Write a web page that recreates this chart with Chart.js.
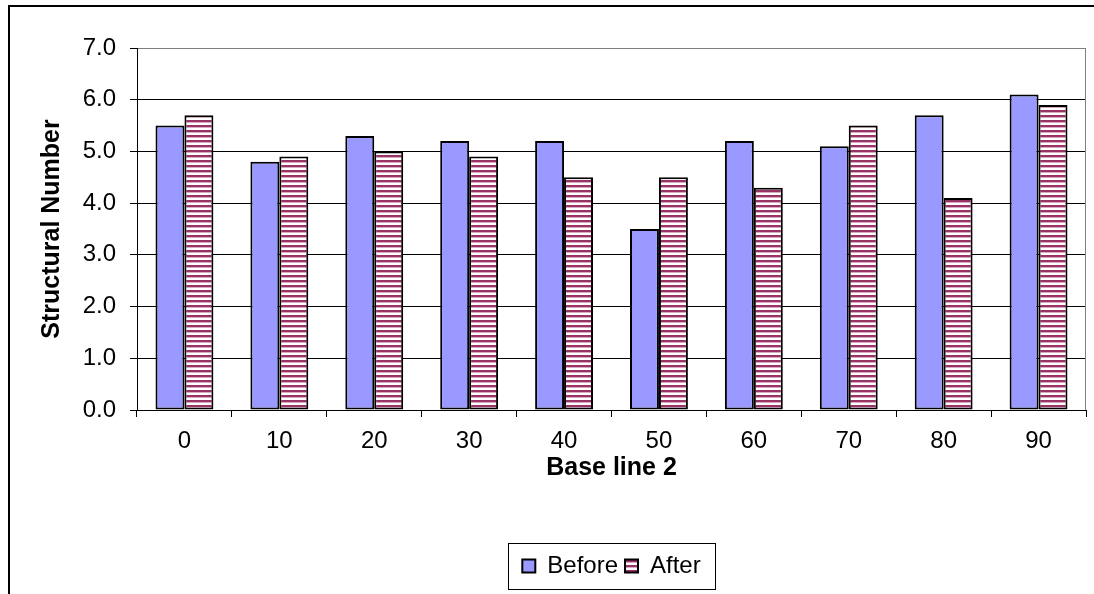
<!DOCTYPE html>
<html>
<head>
<meta charset="utf-8">
<script src="https://cdn.jsdelivr.net/npm/chart.js@4/dist/chart.umd.min.js"></script>
<style>
  html, body { margin: 0; padding: 0; background: #fff; }
</style>
</head>
<body>
<canvas id="myChart" width="1094" height="594"></canvas>
<script>
// values
const categories = ['0', '10', '20', '30', '40', '50', '60', '70', '80', '90'];
const before = [5.5, 4.8, 5.3, 5.2, 5.2, 3.5, 5.2, 5.1, 5.7, 6.1];
const after = [5.7, 4.9, 5.0, 4.9, 4.5, 4.5, 4.3, 5.5, 4.1, 5.9];
const seriesNames = ['Before', 'After'];

const FONT = "'Liberation Sans', Arial, sans-serif";

// horizontal maroon / white stripes like the Excel pattern fill
function stripes() {
  const c = document.createElement('canvas');
  c.width = 8;
  c.height = 5;
  const g = c.getContext('2d');
  g.fillStyle = '#ffffff';
  g.fillRect(0, 0, 8, 5);
  g.fillStyle = '#993366';
  g.fillRect(0, 0, 8, 2);
  g.fillStyle = '#d8a9c0';
  g.fillRect(0, 2, 8, 1);
  return g.createPattern(c, 'repeat');
}

const frame = {
  id: 'frame',
  beforeDraw(chart) {
    const c = chart.ctx;
    c.save();
    c.fillStyle = '#fff';
    c.fillRect(0, 0, chart.width, chart.height);
    c.strokeStyle = '#000';
    c.lineWidth = 2;
    c.strokeRect(9, 6, chart.width + 20, chart.height + 20);
    c.restore();
  },
  afterLayout(chart) {
    // centre the legend under the plot area
    chart.legend.left = chart.chartArea.left;
    chart.legend.right = chart.chartArea.right;
  },
  beforeDatasetsDraw(chart) {
    const a = chart.chartArea;
    const c = chart.ctx;
    c.save();
    c.strokeStyle = '#808080';
    c.lineWidth = 1;
    c.beginPath();
    c.moveTo(a.right - 0.5, a.top);
    c.lineTo(a.right - 0.5, a.bottom);
    c.stroke();
    c.restore();
  },
  afterDraw(chart) {
    const lg = chart.legend;
    const lab = lg.options.labels;
    const c = chart.ctx;
    const w = lg.lineWidths[0] + 22;
    const cx = (lg.left + lg.right) / 2;
    const cy = lg.top + lab.padding + lab.font.size / 2;
    c.save();
    c.strokeStyle = '#000';
    c.lineWidth = 1;
    c.strokeRect(Math.round(cx - w / 2) + 0.5, Math.round(cy - 23) + 0.5, Math.round(w), 46);
    c.restore();
  }
};

const ctx = document.getElementById('myChart').getContext('2d');
const myChart = new Chart(ctx, {
  type: 'bar',
  data: {
    labels: categories,
    datasets: [
      {
        label: seriesNames[0],
        data: before,
        backgroundColor: '#9999ff',
        borderColor: '#000',
        borderWidth: 2,
        borderSkipped: false
      },
      {
        label: seriesNames[1],
        data: after,
        backgroundColor: stripes(),
        borderColor: '#000',
        borderWidth: 2,
        borderSkipped: false
      }
    ]
  },
  options: {
    responsive: false,
    animation: false,
    devicePixelRatio: 1,
    font: { family: FONT },
    layout: { padding: { left: 0, right: 8, top: 48, bottom: 6 } },
    datasets: { bar: { categoryPercentage: 0.61, barPercentage: 1.0 } },
    plugins: {
      legend: {
        position: 'bottom',
        labels: {
          color: '#000',
          font: { family: FONT, size: 24 },
          boxWidth: 13,
          boxHeight: 13,
          padding: 7
        }
      },
      tooltip: { enabled: false }
    },
    scales: {
      x: {
        afterFit(scale) { scale.height = 137; },
        grid: {
          offset: true,
          drawOnChartArea: false,
          color: '#000',
          tickColor: '#000',
          tickLength: 7
        },
        border: { color: '#000', width: 1 },
        ticks: {
          color: '#000',
          font: { family: FONT, size: 24 },
          padding: 10,
          maxRotation: 0
        },
        title: {
          display: true,
          text: 'Base line 2',
          color: '#000',
          font: { family: FONT, size: 25, weight: 'bold' },
          padding: { bottom: 64 }
        }
      },
      y: {
        min: 0,
        max: 7,
        afterFit(scale) { scale.width = 137; },
        grid: {
          color: (c) => (c.tick && c.tick.value === 7 ? '#808080' : '#000'),
          tickColor: '#000',
          tickLength: 7,
          lineWidth: 1
        },
        border: { color: '#000', width: 1 },
        ticks: {
          stepSize: 1,
          color: '#000',
          font: { family: FONT, size: 24 },
          padding: 14,
          callback: (v) => Number(v).toFixed(1)
        },
        title: {
          display: true,
          text: 'Structural Number',
          color: '#000',
          font: { family: FONT, size: 25, weight: 'bold' },
          padding: { top: 37 }
        }
      }
    }
  },
  plugins: [frame]
});
</script>
</body>
</html>
